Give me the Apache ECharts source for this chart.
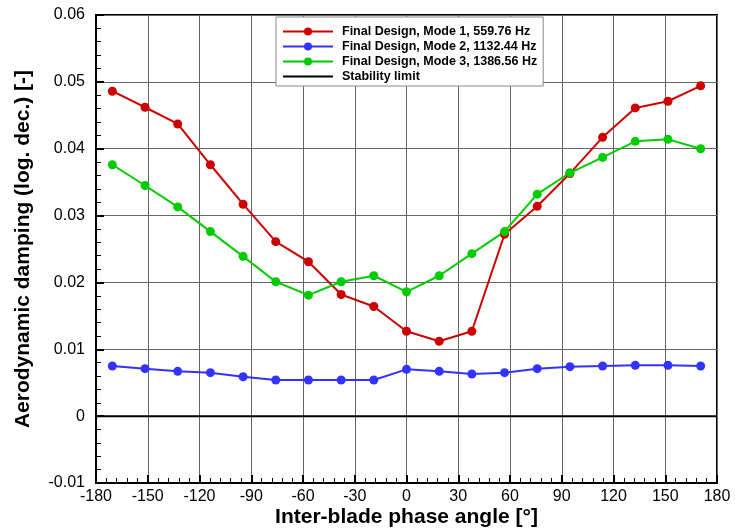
<!DOCTYPE html>
<html>
<head>
<meta charset="utf-8">
<script src="https://cdn.jsdelivr.net/npm/echarts@6/dist/echarts.min.js"></script>
<style>
html,body{margin:0;padding:0;background:#fff;}
#chart{width:735px;height:528px;}
</style>
</head>
<body>
<div id="chart"></div>
<script>
// Inter-blade phase angle [deg]
const ibpa = [-170.53, -151.58, -132.63, -113.68, -94.74, -75.79, -56.84, -37.89, -18.95, 0,
              18.95, 37.89, 56.84, 75.79, 94.74, 113.68, 132.63, 151.58, 170.53];
const mode1 = [0.0486, 0.0462, 0.0437, 0.0376, 0.0317, 0.0261, 0.0231, 0.0182, 0.0164, 0.0127,
               0.0112, 0.0127, 0.0272, 0.0314, 0.0363, 0.0417, 0.0461, 0.0471, 0.0494];
const mode2 = [0.0075, 0.0071, 0.0067, 0.0065, 0.0059, 0.0054, 0.0054, 0.0054, 0.0054, 0.0070,
               0.0067, 0.0063, 0.0065, 0.0071, 0.0074, 0.0075, 0.0076, 0.0076, 0.0075];
const mode3 = [0.0376, 0.0345, 0.0313, 0.0276, 0.0239, 0.0201, 0.0181, 0.0201, 0.0210, 0.0186,
               0.0210, 0.0243, 0.0276, 0.0332, 0.0364, 0.0387, 0.0411, 0.0414, 0.0400];
const stabilityX = [-180, 180];
const stabilityY = [0, 0];
const seriesNames = ['Final Design, Mode 1, 559.76 Hz', 'Final Design, Mode 2, 1132.44 Hz',
                     'Final Design, Mode 3, 1386.56 Hz', 'Stability limit'];
const colors = ['#cc0000', '#3333ff', '#00cc00', '#000000'];

const pair = (xs, ys) => xs.map((x, i) => [x, ys[i]]);

const chart = echarts.init(document.getElementById('chart'), null, {renderer: 'canvas'});
const labelFont = '"Liberation Sans", Arial, Helvetica, sans-serif';
const boldFont = '"Liberation Sans", Arial, Helvetica, sans-serif';

function lineSeries(name, data, color, withSymbol) {
  return {
    name: name, type: 'line', data: data,
    symbol: withSymbol ? 'circle' : 'none',
    symbolSize: 9,
    showSymbol: withSymbol,
    lineStyle: {color: color, width: 2},
    itemStyle: {color: color},
    z: withSymbol ? 3 : 2,
    animation: false
  };
}

chart.setOption({
  animation: false,
  backgroundColor: '#fff',
  grid: {left: 96, right: 18, top: 15, bottom: 45, show: true, borderColor: '#000', borderWidth: 2,
         containLabel: false, outerBoundsMode: 'none'},
  legend: {
    orient: 'vertical', left: 276, top: 17,
    backgroundColor: '#fff', borderColor: '#888', borderWidth: 1,
    padding: [8, 6, 3, 6],
    itemWidth: 50, itemHeight: 10, itemGap: 2,
    textStyle: {fontFamily: boldFont, fontWeight: 'bold', fontSize: 12.5, color: '#000', padding: [0, 0, 0, 4]},
    data: [
      {name: seriesNames[0]},
      {name: seriesNames[1]},
      {name: seriesNames[2]},
      {name: seriesNames[3], itemStyle: {opacity: 0}}
    ]
  },
  xAxis: {
    type: 'value', min: -180, max: 180, interval: 30,
    name: 'Inter-blade phase angle [°]', nameLocation: 'middle', nameGap: 24,
    nameMoveOverlap: false,
    nameTextStyle: {fontFamily: boldFont, fontWeight: 'bold', fontSize: 21, color: '#000'},
    axisLine: {show: true, onZero: false, lineStyle: {color: '#000', width: 2}},
    axisTick: {show: true, inside: true, length: 8, lineStyle: {color: '#000', width: 2}},
    minorTick: {show: true, splitNumber: 5, length: 5, lineStyle: {color: '#000', width: 1}},
    axisLabel: {fontFamily: labelFont, fontSize: 16, color: '#000', margin: 6},
    splitLine: {show: true, lineStyle: {color: '#666', width: 1}}
  },
  yAxis: {
    type: 'value', min: -0.01, max: 0.06, interval: 0.01,
    name: 'Aerodynamic damping (log. dec.) [-]', nameLocation: 'middle', nameGap: 62,
    nameMoveOverlap: false,
    nameTextStyle: {fontFamily: boldFont, fontWeight: 'bold', fontSize: 21, color: '#000'},
    axisLine: {show: true, onZero: false, lineStyle: {color: '#000', width: 2}},
    axisTick: {show: true, inside: true, length: 8, lineStyle: {color: '#000', width: 2}},
    minorTick: {show: true, splitNumber: 5, length: 5, lineStyle: {color: '#000', width: 1}},
    axisLabel: {fontFamily: labelFont, fontSize: 16, color: '#000', margin: 11,
      formatter: v => (Math.abs(v) < 1e-9 ? '0' : String(+v.toFixed(2)))},
    splitLine: {show: true, lineStyle: {color: '#666', width: 1}}
  },
  series: [
    lineSeries(seriesNames[0], pair(ibpa, mode1), colors[0], true),
    lineSeries(seriesNames[1], pair(ibpa, mode2), colors[1], true),
    lineSeries(seriesNames[2], pair(ibpa, mode3), colors[2], true),
    lineSeries(seriesNames[3], pair(stabilityX, stabilityY), colors[3], false)
  ]
});
</script>
</body>
</html>
